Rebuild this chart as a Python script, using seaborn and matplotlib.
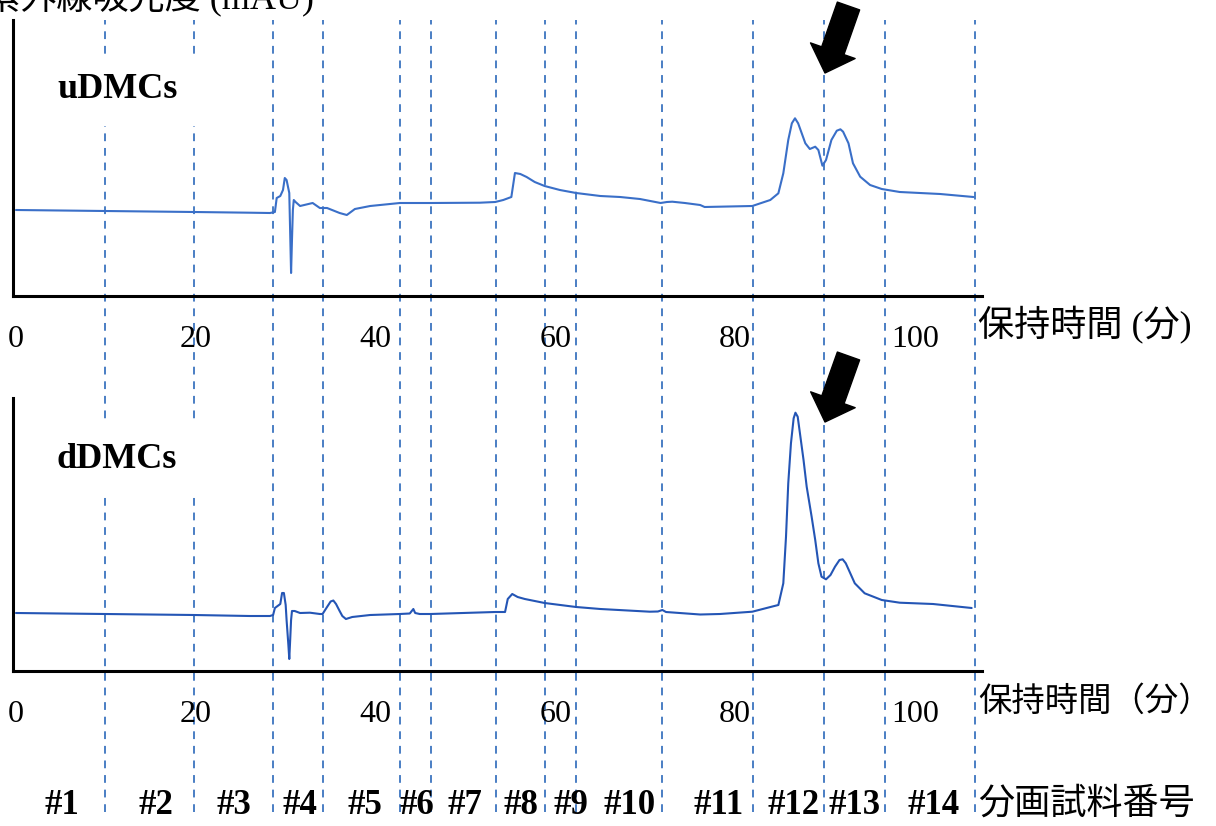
import matplotlib
matplotlib.use("Agg")
import matplotlib.pyplot as plt
import seaborn as sns

# uDMCs trace: retention time (min) / absorbance (arbitrary units)
u_time = [0.0, 9.9, 19.8, 26.0, 28.25, 28.8, 29.0, 29.4, 29.7, 29.9, 30.1, 30.4, 30.5, 30.6,
          30.7, 30.8, 30.9, 31.1, 31.6, 33.0, 33.8, 34.6, 36.0, 36.8, 37.7, 39.4, 42.7, 46.1,
          51.6, 53.3, 54.2, 55.1, 55.3, 55.5, 56.1, 56.8, 57.7, 58.8, 60.5, 62.3, 65.0, 67.2,
          69.4, 71.7, 72.4, 73.0, 74.4, 76.1, 76.6, 81.9, 83.9, 84.8, 85.35, 85.9, 86.3, 86.65,
          87.0, 87.4, 87.8, 88.3, 88.9, 89.25, 89.7, 90.1, 90.7, 91.3, 91.7, 92.0, 92.6, 93.1,
          93.9, 95.0, 96.3, 98.3, 102.8, 106.5]
u_abs = [86, 85, 84, 83.3, 83, 84, 98, 100, 106, 118, 116, 103, 63, 23,
         56, 86, 96, 94, 90, 93, 88, 88, 83, 81, 87, 90, 93, 93,
         93.3, 94, 96, 99, 111, 123, 122, 119, 114, 110, 106, 103, 100, 99,
         97, 93, 94, 94.3, 93, 91, 89, 90, 96, 102.7, 122.7, 156, 172.7, 177.7,
         172.7, 162.7, 152.7, 147, 149.3, 146, 130.3, 136, 156, 165.3, 166.7, 164.3, 152.7, 132.7,
         119.3, 111, 107, 104, 102, 99]

# dDMCs trace
d_time = [0.0, 9.9, 19.8, 26.0, 28.25, 28.6, 28.8, 29.4, 29.6, 29.8, 30.0, 30.1, 30.3, 30.4,
          30.5, 30.6, 30.7, 31.0, 31.6, 32.7, 33.8, 34.1, 34.6, 35.0, 35.3, 35.6, 36.0, 36.3,
          36.7, 37.4, 39.4, 42.7, 43.8, 44.2, 44.4, 44.9, 46.1, 53.3, 54.4, 54.7, 55.2, 55.8,
          56.6, 58.8, 62.3, 65.0, 70.5, 71.4, 71.9, 72.3, 76.1, 78.3, 81.9, 84.05, 84.8, 85.35,
          85.65, 85.9, 86.2, 86.5, 86.7, 86.95, 87.2, 87.6, 87.95, 88.5, 88.9, 89.25, 89.6, 90.1,
          90.6, 91.1, 91.6, 91.95, 92.3, 92.8, 93.3, 94.4, 96.3, 98.3, 102.0, 106.3]
d_abs = [58, 57, 56, 55, 55, 56, 63, 67, 78, 78, 66, 51, 26, 12,
         31, 51, 60, 60, 58, 58.3, 57, 57, 64, 69.5, 70.5, 67, 60, 55,
         52, 54, 56, 57, 57.5, 62, 58, 57, 57, 59, 59, 72, 77, 74,
         72, 68, 64, 62, 59.3, 59.5, 61, 59, 56.5, 57, 59.3, 64.3, 66, 87.7,
         134.3, 187.7, 227.7, 252.7, 258.3, 254.3, 237.7, 211, 184.3, 154.3, 131, 107.7, 94.3, 91.7,
         96, 104.3, 111, 111.7, 107.7, 97.7, 87.7, 77.7, 71, 68.3, 67, 63]

# fraction boundaries (min) and labels
frac_edges = [9.9, 19.8, 28.6, 34.1, 42.7, 46.2, 53.4, 58.8, 62.3, 71.9, 82.0, 89.9, 96.7, 106.7]
frac_labels = ["#1", "#2", "#3", "#4", "#5", "#6", "#7", "#8", "#9", "#10",
               "#11", "#12", "#13", "#14"]
frac_label_pos = [5.1, 15.6, 24.3, 31.6, 38.8, 44.6, 49.9, 56.2, 61.7, 68.3,
                  78.1, 86.5, 93.3, 102.1]
x_ticks = [0, 20, 40, 60, 80, 100]

sns.set_theme(style="white")
plt.rcParams["font.family"] = ["Liberation Serif", "Noto Sans CJK JP"]
plt.rcParams["text.color"] = "black"
plt.rcParams["xtick.color"] = "black"
plt.rcParams["axes.labelcolor"] = "black"

W, H = 1216, 826
fig = plt.figure(figsize=(W / 100, H / 100), dpi=100)

xmin, xmax = -0.33, 107.45
L, R = 13 / W, 982 / W

# background axes covering the whole figure for the fraction lines
span = (xmax - xmin) / (R - L)
ax_bg = fig.add_axes([0, 0, 1, 1], zorder=0)
ax_bg.set_xlim(xmin - L * span, xmax + (1 - R) * span)
ax_bg.set_ylim(0, H)
ax_bg.axis("off")
ax_bg.vlines(frac_edges, 14, 806, colors="#4a7ec4", linewidth=1.4,
             linestyles=(0, (4, 3.5)))

ax_top = fig.add_axes([L, 1 - 296 / H, R - L, (296 - 20) / H], zorder=1)
ax_bot = fig.add_axes([L, 1 - 671 / H, R - L, (671 - 398) / H], zorder=1)

sns.lineplot(x=u_time, y=u_abs, ax=ax_top, color="#3a6fc8", linewidth=1.5)
sns.lineplot(x=d_time, y=d_abs, ax=ax_bot, color="#2455b5", linewidth=1.5)

for ax, ytop in [(ax_top, 276), (ax_bot, 273)]:
    ax.set_facecolor("none")
    ax.set_xlim(xmin, xmax)
    ax.set_ylim(0, ytop)
    ax.set_yticks([])
    ax.set_xticks(x_ticks)
    ax.set_xticklabels([str(t) for t in x_ticks], fontsize=23)
    ax.tick_params(axis="x", length=0, pad=21)
    for s in ["top", "right"]:
        ax.spines[s].set_visible(False)
    for s in ["left", "bottom"]:
        ax.spines[s].set_color("black")
        ax.spines[s].set_linewidth(2.2)

# axis labels
fig.text(978 / W, 1 - 325 / H, "保持時間 (分)", fontsize=26, va="center", ha="left")
fig.text(978 / W, 1 - 702 / H, "保持時間（分）", fontsize=24, va="center", ha="left")
fig.text(-16 / W, 1 - 9 / H, "紫外線吸光度 (mAU)", fontsize=26, va="baseline", ha="left")

# sample labels
ax_bg.text(xmin + (118 / W - L) * span, H - 90, "uDMCs", fontsize=26, fontweight="bold",
           ha="center", va="center", zorder=5,
           bbox=dict(facecolor="white", edgecolor="none", pad=14))
ax_bg.text(xmin + (117 / W - L) * span, H - 460, "dDMCs", fontsize=26, fontweight="bold",
           ha="center", va="center", zorder=5,
           bbox=dict(facecolor="white", edgecolor="none", pad=14))

# fraction numbers
for pos, lab in zip(frac_label_pos, frac_labels):
    ax_bg.text(pos, H - 805, lab, fontsize=25, fontweight="bold", ha="center", va="center")
fig.text(978 / W, 1 - 805 / H, "分画試料番号", fontsize=26, va="center", ha="left")

# arrows
arrow = dict(arrowstyle="simple,head_length=1.0,head_width=2.0,tail_width=1.0",
             mutation_scale=17, color="black", shrinkA=0, shrinkB=0)
ax_bg.annotate("", xy=(825, H - 73), xytext=(848.5, H - 6),
               xycoords="figure pixels", textcoords="figure pixels", arrowprops=arrow)
ax_bg.annotate("", xy=(825, H - 422), xytext=(848.5, H - 356),
               xycoords="figure pixels", textcoords="figure pixels", arrowprops=arrow)

fig.savefig("out.png", dpi=100)
